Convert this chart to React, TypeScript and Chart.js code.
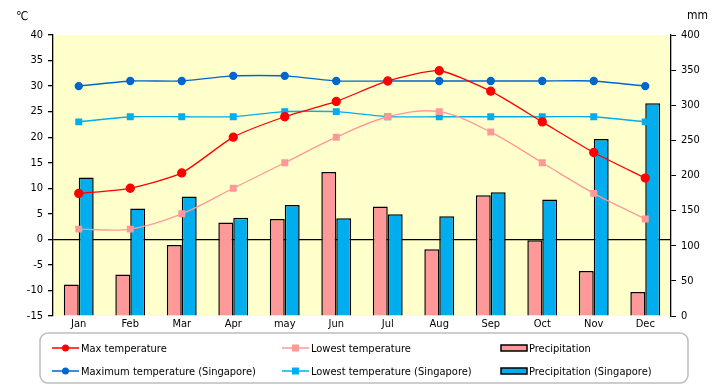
import { useEffect, useRef } from "react";
import { Chart, registerables } from "chart.js";
Chart.register(...registerables);

const months = ["Jan", "Feb", "Mar", "Apr", "may", "Jun", "Jul", "Aug", "Sep", "Oct", "Nov", "Dec"];
const maxTemp = [9, 10, 13, 20, 24, 27, 31, 33, 29, 23, 17, 12];
const lowTemp = [2, 2, 5, 10, 15, 20, 24, 25, 21, 15, 9, 4];
const precip = [45, 59, 101, 133, 138, 205, 156, 95, 172, 108, 64, 34];
const sgMax = [30, 31, 31, 32, 32, 31, 31, 31, 31, 31, 31, 30];
const sgLow = [23, 24, 24, 24, 25, 25, 24, 24, 24, 24, 24, 23];
const sgPrecip = [197, 153, 170, 140, 158, 139, 145, 142, 176, 166, 252, 303];
const tempTicks = { min: -15, max: 40, step: 5 };
const mmTicks = { min: 0, max: 400, step: 50 };

const FONT = "'Liberation Sans Narrow', 'DejaVu Sans Condensed', 'Liberation Sans', sans-serif";

const bgPlugin = {
  id: "bg",
  beforeDraw(chart: any) {
    const { ctx, chartArea: a } = chart;
    ctx.save();
    ctx.fillStyle = "#FFFFCC";
    ctx.fillRect(a.left, a.top, a.right - a.left, a.bottom - a.top);
    ctx.restore();
  },
  afterDraw(chart: any) {
    const { ctx } = chart;
    ctx.save();
    ctx.fillStyle = "#000";
    ctx.font = `12px ${FONT}`;
    ctx.textBaseline = "middle";
    ctx.textAlign = "left";
    ctx.fillText("℃", 16, 17);
    ctx.fillText("mm", 687, 16);
    // legend box
    const x0 = 40, y0 = 333, w = 648, h = 50, r = 8;
    ctx.strokeStyle = "#BDBDBD";
    ctx.lineWidth = 1.5;
    ctx.beginPath();
    ctx.roundRect(x0, y0, w, h, r);
    ctx.stroke();
    const cols = [52, 282, 501];
    const rows = [348, 371];
    [0, 1, 2, 3, 4, 5].forEach((di, i) => {
      const ds = chart.data.datasets[di];
      const cx = cols[i % 3];
      const cy = rows[Math.floor(i / 3)];
      if (ds.type === "bar") {
        ctx.fillStyle = ds.backgroundColor;
        ctx.strokeStyle = "#000";
        ctx.lineWidth = 1.5;
        ctx.fillRect(cx, cy - 3, 26, 6);
        ctx.strokeRect(cx, cy - 3, 26, 6);
        ctx.fillStyle = "#000";
        ctx.font = `11px ${FONT}`;
        ctx.fillText(ds.label, cx + 28, cy + 1);
      } else {
        ctx.strokeStyle = ds.borderColor;
        ctx.lineWidth = 1.5;
        ctx.beginPath();
        ctx.moveTo(cx, cy);
        ctx.lineTo(cx + 27, cy);
        ctx.stroke();
        ctx.fillStyle = ds.pointBackgroundColor;
        if (ds.pointStyle === "rect") {
          ctx.fillRect(cx + 10, cy - 3.5, 7, 7);
        } else {
          ctx.beginPath();
          ctx.arc(cx + 13.5, cy, 3.5, 0, Math.PI * 2);
          ctx.fill();
        }
        ctx.fillStyle = "#000";
        ctx.font = `11px ${FONT}`;
        ctx.fillText(ds.label, cx + 29, cy + 1);
      }
    });
    ctx.restore();
  },
};

export default function App() {
  const ref = useRef<HTMLCanvasElement>(null);
  useEffect(() => {
    document.body.style.margin = "0";
    const chart = new Chart(ref.current!, {
      type: "bar",
      data: {
        labels: months,
        datasets: [
          {
            type: "line", label: "Max temperature", data: maxTemp, yAxisID: "y",
            borderColor: "#FF0000", backgroundColor: "#FF0000", pointBackgroundColor: "#FF0000",
            pointBorderColor: "#FF0000", pointStyle: "circle", pointRadius: 4, borderWidth: 1.3,
            tension: 0.2, order: 1,
          },
          {
            type: "line", label: "Lowest temperature", data: lowTemp, yAxisID: "y",
            borderColor: "#FF9999", backgroundColor: "#FF9999", pointBackgroundColor: "#FF9999",
            pointBorderColor: "#FF9999", pointStyle: "rect", pointRadius: 4, borderWidth: 1.3,
            tension: 0.35, order: 1,
          },
          {
            type: "bar", label: "Precipitation", data: precip, yAxisID: "y1",
            backgroundColor: "#FF9999", borderColor: "#000", borderWidth: 1.5, order: 2,
            barPercentage: 1, categoryPercentage: 0.58,
          },
          {
            type: "line", label: "Maximum temperature (Singapore)", data: sgMax, yAxisID: "y",
            borderColor: "#0066CC", backgroundColor: "#0066CC", pointBackgroundColor: "#0066CC",
            pointBorderColor: "#0066CC", pointStyle: "circle", pointRadius: 3.5, borderWidth: 1.3,
            tension: 0.2, order: 1,
          },
          {
            type: "line", label: "Lowest temperature (Singapore)", data: sgLow, yAxisID: "y",
            borderColor: "#00AEEF", backgroundColor: "#00AEEF", pointBackgroundColor: "#00AEEF",
            pointBorderColor: "#00AEEF", pointStyle: "rect", pointRadius: 4, borderWidth: 1.3,
            tension: 0.2, order: 1,
          },
          {
            type: "bar", label: "Precipitation (Singapore)", data: sgPrecip, yAxisID: "y1",
            backgroundColor: "#00AEEF", borderColor: "#000", borderWidth: 1.5, order: 2,
            barPercentage: 1, categoryPercentage: 0.58,
          },
        ] as any,
      },
      options: {
        animation: false,
        responsive: false,
        layout: { padding: { top: 35, bottom: 49, left: 0, right: 0 } },
        plugins: { legend: { display: false }, tooltip: { enabled: false } },
        scales: {
          x: {
            offset: true,
            grid: { display: false },
            border: { display: false },
            ticks: { color: "#000", font: { family: FONT, size: 11 }, padding: -6 },
            afterFit: (s: any) => { s.height = 20; },
          },
          y: {
            position: "left",
            min: tempTicks.min, max: tempTicks.max,
            ticks: { stepSize: tempTicks.step, color: "#000", font: { family: FONT, size: 11 }, padding: 5 },
            border: { display: true, color: "#000", width: 1.3 },
            grid: {
              color: (c: any) => (c.tick && c.tick.value === 0 ? "#000" : "rgba(0,0,0,0)"),
              lineWidth: 1.3,
              tickColor: "#000",
              tickLength: 5,
            },
            afterFit: (s: any) => { s.width = 53; },
          },
          y1: {
            position: "right",
            min: mmTicks.min, max: mmTicks.max,
            ticks: { stepSize: mmTicks.step, color: "#000", font: { family: FONT, size: 11 }, padding: 5 },
            border: { display: true, color: "#000", width: 1.3 },
            grid: { drawOnChartArea: false, tickColor: "#000", tickLength: 5 },
            afterFit: (s: any) => { s.width = 49; },
          },
        },
      },
      plugins: [bgPlugin],
    });
    return () => chart.destroy();
  }, []);
  return <canvas ref={ref} width={720} height={385} style={{ display: "block" }} />;
}
